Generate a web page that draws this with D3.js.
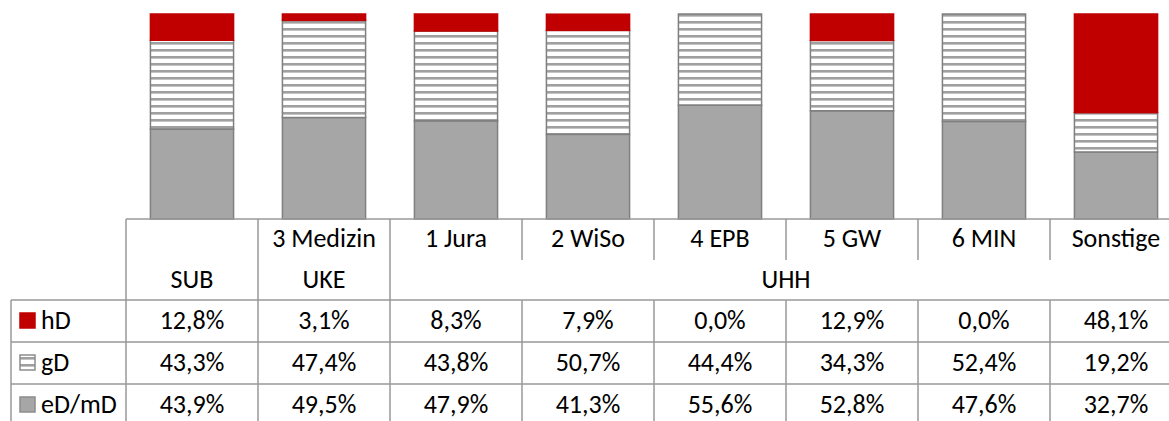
<!DOCTYPE html>
<html>
<head>
<meta charset="utf-8">
<script src="https://cdn.jsdelivr.net/npm/d3@7"></script>
<style>
  body { margin: 0; background: #fff; }
  svg { display: block; font-family: Calibri, Carlito, Lato, sans-serif; }
</style>
</head>
<body>
<div id="chart"></div>
<script>
// categories, two header levels
const topLabels = ["", "3 Medizin", "1 Jura", "2 WiSo", "4 EPB", "5 GW", "6 MIN", "Sonstige"];
const groups = [
  {name: "SUB", from: 0, to: 0},
  {name: "UKE", from: 1, to: 1},
  {name: "UHH", from: 2, to: 7}
];
const seriesNames = ["hD", "gD", "eD/mD"];
const hD = [12.8, 3.1, 8.3, 7.9, 0.0, 12.9, 0.0, 48.1];
const gD = [43.3, 47.4, 43.8, 50.7, 44.4, 34.3, 52.4, 19.2];
const eD = [43.9, 49.5, 47.9, 41.3, 55.6, 52.8, 47.6, 32.7];

const width = 1169, height = 421;
const colLeft = 126, colW = 132;
const plotTop = 14, plotBottom = 219;
const legendLeft = 11;
const rowTops = [300, 342, 384];
const lineCol = "#999";
const fontSize = 26;

const fmt = v => v.toFixed(1).replace(".", ",") + "%";

const svg = d3.select("#chart").append("svg")
    .attr("width", width)
    .attr("height", height);

// stripe pattern for gD
const defs = svg.append("defs");
const pat = defs.append("pattern")
    .attr("id", "stripes")
    .attr("patternUnits", "userSpaceOnUse")
    .attr("width", 8).attr("height", 7);
pat.append("rect").attr("width", 8).attr("height", 7).attr("fill", "#fff");
pat.append("rect").attr("y", 0).attr("width", 8).attr("height", 2).attr("fill", "#a0a0a0");
pat.append("rect").attr("y", 2).attr("width", 8).attr("height", 1).attr("fill", "#c4c4c4");

const x = d3.scaleBand()
    .domain(d3.range(topLabels.length))
    .range([colLeft, colLeft + colW * topLabels.length])
    .paddingInner(0.37)
    .paddingOuter(0.185);

const y = d3.scaleLinear().domain([0, 100]).range([plotBottom, plotTop]);

// stacking: eD bottom, gD middle, hD top
const rows = topLabels.map((c, i) => ({i, eD: eD[i], gD: gD[i], hD: hD[i]}));
const stack = d3.stack().keys(["eD", "gD", "hD"]);
const layers = stack(rows);
const fills = {eD: "#a6a6a6", gD: "url(#stripes)", hD: "#c00000"};
const strokes = {eD: "#7f7f7f", gD: "#7f7f7f", hD: "#c00000"};

svg.append("g").selectAll("g")
  .data(layers)
  .join("g")
    .attr("fill", d => fills[d.key])
    .attr("stroke", d => strokes[d.key])
    .attr("stroke-width", 1.5)
  .selectAll("rect")
  .data(d => d.filter(p => p[1] - p[0] > 0))
  .join("rect")
    .attr("x", d => x(d.data.i))
    .attr("width", x.bandwidth())
    .attr("y", d => y(d[1]))
    .attr("height", d => y(d[0]) - y(d[1]));

// table
const tbl = svg.append("g")
    .attr("stroke", lineCol)
    .attr("stroke-width", 1.5);
const right = colLeft + colW * topLabels.length;

// horizontal lines
tbl.append("line").attr("x1", colLeft).attr("x2", right).attr("y1", plotBottom).attr("y2", plotBottom);
rowTops.forEach(t => {
  tbl.append("line").attr("x1", legendLeft).attr("x2", right).attr("y1", t).attr("y2", t);
});
// vertical lines
tbl.append("line").attr("x1", legendLeft).attr("x2", legendLeft).attr("y1", rowTops[0]).attr("y2", height);
d3.range(topLabels.length).forEach(i => {
  const xx = colLeft + colW * i;
  const groupStart = groups.some(g => g.from === i);
  tbl.append("line")
      .attr("x1", xx).attr("x2", xx)
      .attr("y1", plotBottom)
      .attr("y2", groupStart ? height : 260);
  if (!groupStart) {
    tbl.append("line").attr("x1", xx).attr("x2", xx).attr("y1", rowTops[0]).attr("y2", height);
  }
});

const txt = svg.append("g")
    .attr("font-size", fontSize)
    .attr("fill", "#000")
    .attr("text-anchor", "middle");

txt.selectAll(".top")
  .data(topLabels)
  .join("text")
    .attr("x", (d, i) => colLeft + colW * i + colW / 2)
    .attr("y", 247)
    .text(d => d);

txt.selectAll(".grp")
  .data(groups)
  .join("text")
    .attr("x", d => colLeft + colW * (d.from + d.to + 1) / 2)
    .attr("y", 288)
    .text(d => d.name);

const tableData = [hD, gD, eD];
tableData.forEach((vals, r) => {
  txt.append("g").selectAll("text")
    .data(vals)
    .join("text")
      .attr("x", (d, i) => colLeft + colW * i + colW / 2)
      .attr("y", rowTops[r] + 29)
      .text(d => fmt(d));
});

// legend keys
const keyFill = ["#c00000", "url(#stripes)", "#a6a6a6"];
const keyStroke = ["#c00000", "#8c8c8c", "#8c8c8c"];
seriesNames.forEach((s, r) => {
  svg.append("rect")
      .attr("x", 20).attr("y", rowTops[r] + 13)
      .attr("width", 15).attr("height", 15)
      .attr("fill", keyFill[r])
      .attr("stroke", keyStroke[r])
      .attr("stroke-width", 1.5);
  svg.append("text")
      .attr("x", 41).attr("y", rowTops[r] + 29)
      .attr("font-size", fontSize)
      .text(s);
});
</script>
</body>
</html>
